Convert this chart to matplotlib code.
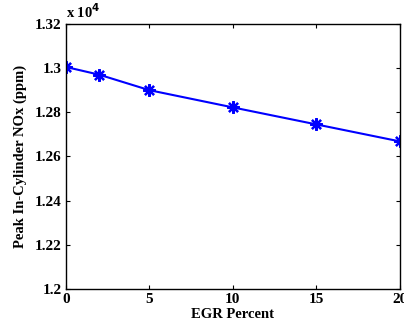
import matplotlib
matplotlib.use("Agg")
import matplotlib.pyplot as plt

# EGR sweep results
egr_percent = [0, 2, 5, 10, 15, 20]
peak_nox = [13005, 12970, 12900, 12822, 12745, 12668]
yticks = [1.20, 1.22, 1.24, 1.26, 1.28, 1.30, 1.32]
ytick_labels = ["1.2", "1.22", "1.24", "1.26", "1.28", "1.3", "1.32"]
xticks = [0, 5, 10, 15, 20]

plt.rcParams["font.family"] = ["Liberation Serif", "DejaVu Serif"]
plt.rcParams["font.weight"] = "bold"

fig = plt.figure(figsize=(4.04, 3.27), dpi=100)
ax = fig.add_axes([0.163, 0.116, 0.827, 0.811])

ax.plot(egr_percent, [v / 1e4 for v in peak_nox], color="blue", lw=1.5,
        marker=(8, 2, 0), markersize=9, markeredgewidth=1.6)

ax.set_xlim(0, 20)
ax.set_ylim(1.2, 1.32)
ax.set_xticks(xticks)
ax.set_xticklabels([str(t) for t in xticks], fontweight="bold")
ax.set_yticks(yticks)
ax.set_yticklabels(ytick_labels, fontweight="bold")
ax.tick_params(direction="in", length=3, width=0.8, labelsize=11,
               top=True, right=True, pad=3)
for s in ax.spines.values():
    s.set_linewidth(1.0)

ax.set_xlabel("EGR Percent", fontsize=10.5, fontweight="bold", labelpad=1)
ax.set_ylabel("Peak In-Cylinder NOx (ppm)", fontsize=10.5, fontweight="bold", labelpad=6)
fig.text(0.163, 0.945, r"x 10$^{4}$", fontsize=10.5, fontweight="bold")

fig.savefig("out.png", dpi=100)
